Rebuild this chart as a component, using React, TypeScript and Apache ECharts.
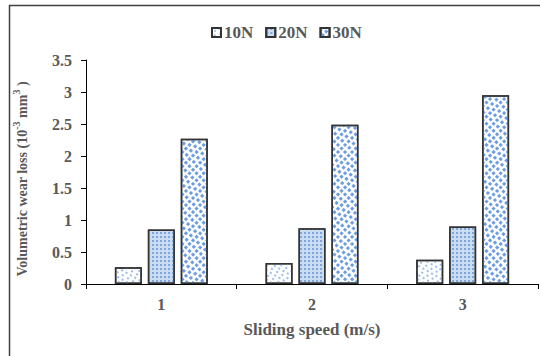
import React, { useEffect, useRef } from "react";
import * as echarts from "echarts";

const categories = ["1", "2", "3"];
const seriesNames = ["10N", "20N", "30N"];
const values10N = [0.26, 0.33, 0.38];
const values20N = [0.85, 0.87, 0.9];
const values30N = [2.27, 2.49, 2.95];
const yTicks = { min: 0, max: 3.5, interval: 0.5 };

const FONT = "'Liberation Serif', 'Times New Roman', serif";
const TEXT = "#595959";

export default function App() {
  const ref = useRef<HTMLDivElement>(null);
  useEffect(() => {
    if (!ref.current) return;
    const chart = echarts.init(ref.current, null, { renderer: "svg" });
    const decals = [
      {
        symbol: "rect",
        symbolSize: 1,
        color: "#9dbde8",
        dashArrayX: [[1.5, 3], [0, 2.2, 1.5, 0.8]],
        dashArrayY: [1.5, 1.8],
      },
      {
        symbol: "rect",
        symbolSize: 1,
        color: "#7fa6dc",
        dashArrayX: [1.5, 1.5],
        dashArrayY: [1.5, 1.5],
      },
      {
        symbol: "rect",
        symbolSize: 1,
        color: "#6b9de0",
        dashArrayX: [[2.5, 2], [0, 2.2, 2.5, 0]],
        dashArrayY: [2.5, 1.5],
      },
    ];
    const fills = ["#ffffff", "#cadcf2", "#ffffff"];
    const data = [values10N, values20N, values30N];
    chart.setOption({
      animation: false,
      aria: { enabled: true, decal: { show: true } },
      legend: {
        data: seriesNames,
        icon: "rect",
        left: 206,
        top: 19,
        itemWidth: 9,
        itemHeight: 9,
        itemGap: 12,
        textStyle: { fontFamily: FONT, fontWeight: "bold", fontSize: 17, color: TEXT, padding: [0, 0, 0, -2] },
      },
      graphic: [
        {
          type: "rect",
          shape: { x: 9.5, y: 5.5, width: 600, height: 400 },
          style: { fill: "none", stroke: "#404040", lineWidth: 1.5 },
          silent: true,
          z: 100,
        },
      ],
      grid: { left: 86, right: 2, top: 60, bottom: 72, containLabel: false },
      xAxis: {
        type: "category",
        data: categories,
        name: "Sliding speed (m/s)",
        nameLocation: "middle",
        nameGap: 37,
        nameTextStyle: { fontFamily: FONT, fontWeight: "bold", fontSize: 17, color: TEXT },
        axisLine: { lineStyle: { color: "#000", width: 1 } },
        axisTick: { show: true, alignWithLabel: false, length: 5, lineStyle: { color: "#000" } },
        axisLabel: { margin: 12, fontFamily: FONT, fontWeight: "bold", fontSize: 16, color: TEXT },
      },
      yAxis: {
        type: "value",
        min: yTicks.min,
        max: yTicks.max,
        interval: yTicks.interval,
        name: "{a|Volumetric wear loss (10}{s|-3}{a| mm}{s|3}{a| )}",
        nameLocation: "middle",
        nameGap: 57,
        nameTextStyle: {
          padding: [0, 14, 0, 0],
          rich: {
            a: { fontFamily: FONT, fontWeight: "bold", fontSize: 14, color: TEXT, lineHeight: 18, verticalAlign: "bottom" },
            s: { fontFamily: FONT, fontWeight: "bold", fontSize: 10, color: TEXT, lineHeight: 18, verticalAlign: "top" },
          },
        },
        axisLine: { show: true, lineStyle: { color: "#000", width: 1 } },
        axisTick: { show: true, length: 5, lineStyle: { color: "#000" } },
        splitLine: { show: false },
        axisLabel: { margin: 14, fontFamily: FONT, fontWeight: "bold", fontSize: 16, color: TEXT },
      },
      series: seriesNames.map((name, i) => ({
        name,
        type: "bar",
        data: data[i],
        barWidth: 27,
        barGap: "22%",
        itemStyle: {
          color: fills[i],
          borderColor: "#333333",
          borderWidth: 1.5,
          decal: decals[i],
        },
      })),
    });
    return () => chart.dispose();
  }, []);
  return (
    <div
      ref={ref}
      style={{ position: "fixed", left: 0, top: 0, width: 540, height: 356, background: "#fff" }}
    />
  );
}
